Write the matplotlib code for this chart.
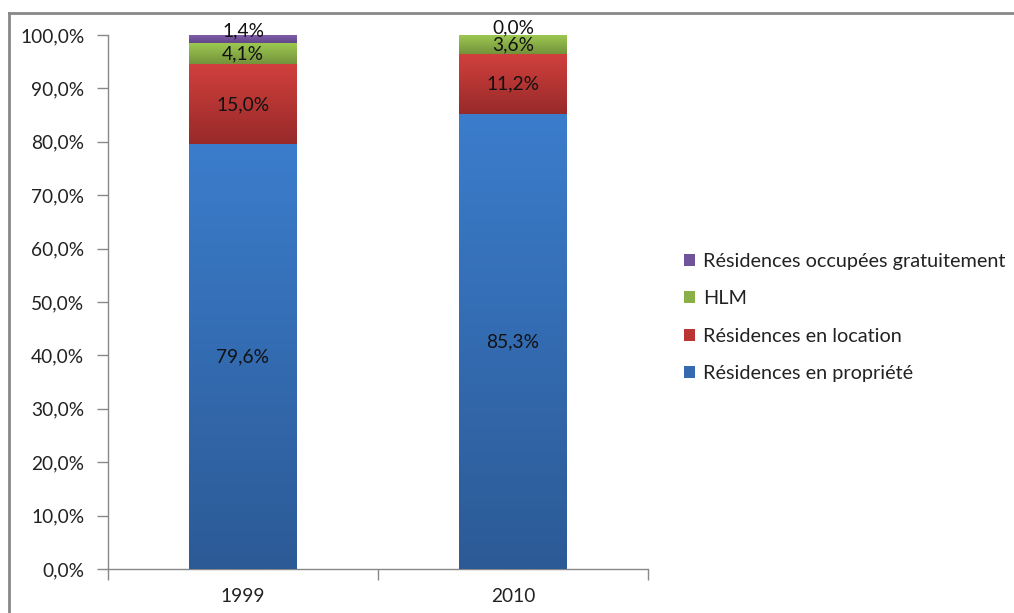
import matplotlib
matplotlib.use("Agg")
import matplotlib.pyplot as plt
import numpy as np
from matplotlib.lines import Line2D
from matplotlib.colors import LinearSegmentedColormap

plt.rcParams['font.family'] = ['Lato', 'DejaVu Sans']

categories = ["1999", "2010"]
series_names = ["Résidences en propriété", "Résidences en location", "HLM",
                "Résidences occupées gratuitement"]
propriete = [79.6, 85.3]
location = [15.0, 11.2]
hlm = [4.1, 3.6]
gratuit = [1.4, 0.0]
y_ticks = [0, 10, 20, 30, 40, 50, 60, 70, 80, 90, 100]

series = [propriete, location, hlm, gratuit]
colors_top = ["#3B7DCC", "#D1403D", "#9ECB52", "#7F5DA9"]
colors_bot = ["#2C5A96", "#972A29", "#74923B", "#624889"]
colors_mid = ["#3569B0", "#B83533", "#8AAF47", "#71539A"]

FS = 13.8

fig = plt.figure(figsize=(10.14, 6.13), dpi=100)
ax = fig.add_axes([0.1065, 0.0718, 0.5325, 0.871])

data = np.array(series, dtype=float)
totals = data.sum(axis=0)
norm = data / totals * 100.0

x = np.arange(len(categories))
bottoms = np.zeros(len(categories))
width = 0.4
for i, name in enumerate(series_names):
    bars = ax.bar(x, norm[i], width, bottom=bottoms, color=colors_mid[i],
                  label=name, zorder=2)
    cmap = LinearSegmentedColormap.from_list("g%d" % i, [colors_bot[i], colors_top[i]])
    grad = np.linspace(0, 1, 256).reshape(-1, 1)
    for b in bars:
        if b.get_height() <= 0:
            continue
        x0, y0 = b.get_x(), b.get_y()
        im = ax.imshow(grad, extent=[x0, x0 + b.get_width(), y0, y0 + b.get_height()],
                       origin="lower", cmap=cmap, aspect="auto", zorder=3,
                       interpolation="bilinear")
        im.set_clip_path(b)
    for j, b in enumerate(bars):
        val = data[i][j]
        yc = bottoms[j] + norm[i][j] / 2.0
        if i == 3:
            yc = bottoms[j] + norm[i][j] / 2.0 + 1.4
        ax.text(x[j], yc, ("%.1f%%" % val).replace(".", ","), ha="center",
                va="center", fontsize=FS, color="#111111", zorder=5)
    bottoms += norm[i]

ax.set_xlim(-0.5, 1.5)
ax.set_ylim(0, 100)
ax.set_yticks(y_ticks)
ax.set_yticklabels([("%.1f%%" % v).replace(".", ",") for v in y_ticks])
ax.set_xticks(x)
ax.set_xticklabels(categories)
ax.set_xticks([-0.5, 0.5, 1.5], minor=True)
ax.tick_params(axis="x", which="major", length=0, pad=14, labelsize=FS, colors="#222222")
ax.tick_params(axis="x", which="minor", length=8, width=1, color="#888888", direction="out")
ax.tick_params(axis="y", which="major", length=8, width=1, color="#888888", pad=9,
               labelsize=FS, labelcolor="#222222")
for s in ["top", "right"]:
    ax.spines[s].set_visible(False)
for s in ["left", "bottom"]:
    ax.spines[s].set_color("#888888")
    ax.spines[s].set_linewidth(1)

h, l = ax.get_legend_handles_labels()
leg = fig.legend(h[::-1], l[::-1], loc="upper left", bbox_to_anchor=(0.667, 0.6),
                 frameon=False, fontsize=14.3, handlelength=0.55, handleheight=0.55,
                 handletextpad=0.4, labelspacing=1.02, borderaxespad=0)
for t in leg.get_texts():
    t.set_color("#222222")

# figure frame (top and left edges)
fig.add_artist(Line2D([0.009, 1.0], [1 - 13 / 613, 1 - 13 / 613], transform=fig.transFigure,
                      color="#888888", lw=2))
fig.add_artist(Line2D([0.009, 0.009], [0, 1 - 13 / 613], transform=fig.transFigure,
                      color="#888888", lw=2))

fig.savefig("out.png", dpi=100)
